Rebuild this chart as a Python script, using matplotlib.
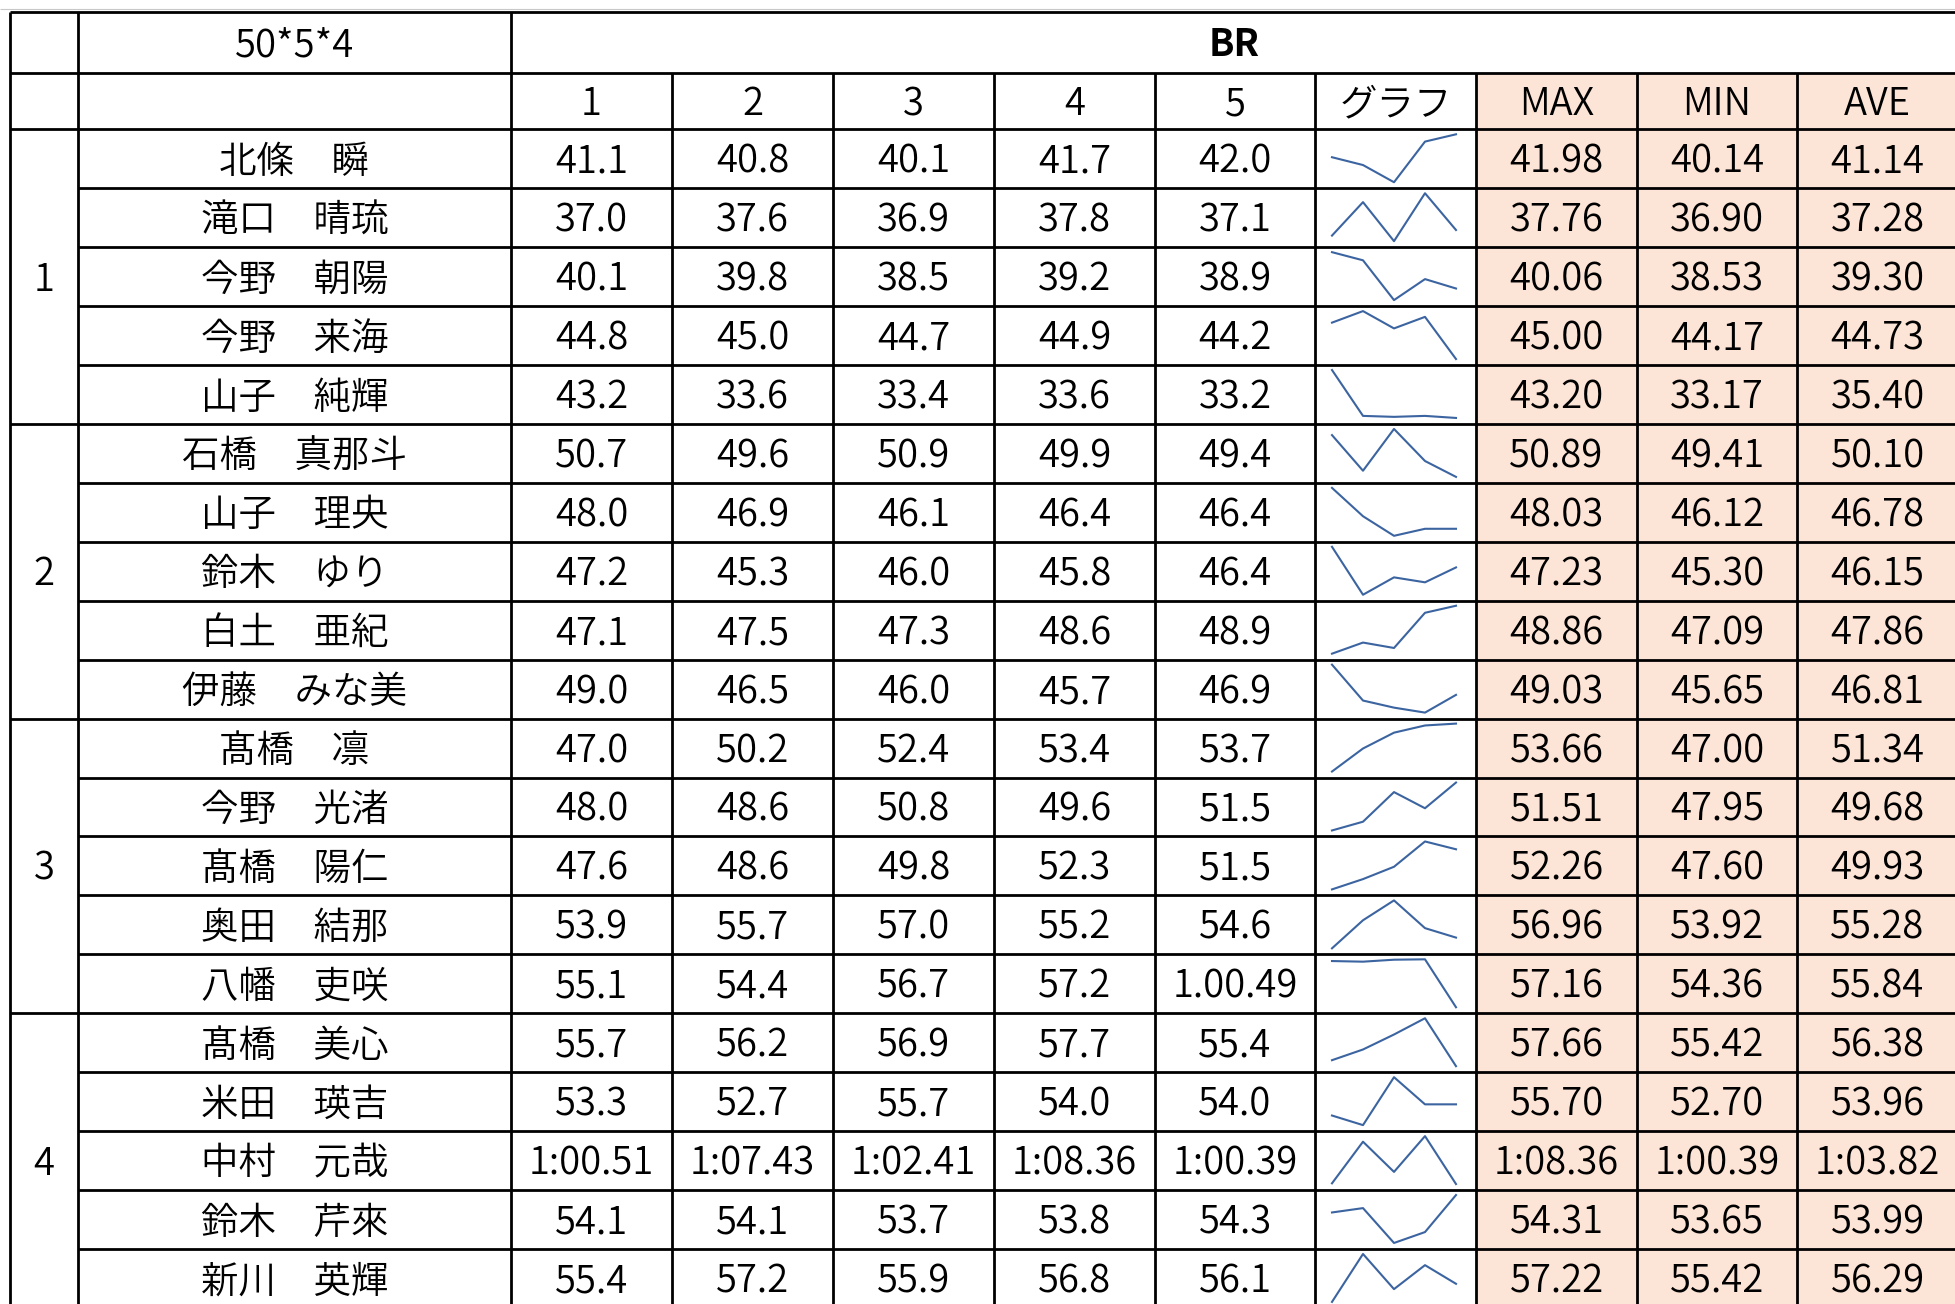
from decimal import Decimal, ROUND_HALF_UP

import matplotlib
matplotlib.use('Agg')
import matplotlib.pyplot as plt
from matplotlib.patches import Rectangle

plt.rcParams['font.family'] = ['Noto Sans CJK JP', 'DejaVu Sans']

# ---- data ----
title = '50*5*4'
event = 'BR'
round_labels = ['1', '2', '3', '4', '5']
graph_label = 'グラフ'
stat_labels = ['MAX', 'MIN', 'AVE']
groups = ['1', '2', '3', '4']

names = ['北條　瞬', '滝口　晴琉', '今野　朝陽', '今野　来海', '山子　純輝',
         '石橋　真那斗', '山子　理央', '鈴木　ゆり', '白土　亜紀', '伊藤　みな美',
         '髙橋　凛', '今野　光渚', '髙橋　陽仁', '奥田　結那', '八幡　吏咲',
         '髙橋　美心', '米田　瑛吉', '中村　元哉', '鈴木　芹來', '新川　英輝']

# seconds per round; a string is a cell typed as text (sparkline plots it as 0)
times = [
  [41.10, 40.80, 40.14, 41.70, 41.98],
  [37.00, 37.60, 36.90, 37.76, 37.10],
  [40.06, 39.80, 38.53, 39.20, 38.90],
  [44.80, 45.00, 44.70, 44.90, 44.17],
  [43.20, 33.60, 33.40, 33.60, 33.17],
  [50.70, 49.60, 50.89, 49.90, 49.41],
  [48.03, 46.90, 46.12, 46.40, 46.40],
  [47.23, 45.30, 46.00, 45.80, 46.40],
  [47.09, 47.50, 47.30, 48.60, 48.86],
  [49.03, 46.50, 46.00, 45.65, 46.90],
  [47.00, 50.20, 52.40, 53.40, 53.66],
  [47.95, 48.60, 50.80, 49.60, 51.51],
  [47.60, 48.60, 49.80, 52.26, 51.50],
  [53.92, 55.70, 56.96, 55.20, 54.60],
  [55.10, 54.36, 56.70, 57.16, '1.00.49'],
  [55.70, 56.20, 56.90, 57.66, 55.42],
  [53.30, 52.70, 55.70, 54.00, 54.00],
  [60.51, 67.43, 62.41, 68.36, 60.39],
  [54.07, 54.13, 53.65, 53.80, 54.31],
  [55.42, 57.22, 55.90, 56.80, 56.10],
]

max_txt = ['41.98', '37.76', '40.06', '45.00', '43.20', '50.89', '48.03', '47.23', '48.86', '49.03',
           '53.66', '51.51', '52.26', '56.96', '57.16', '57.66', '55.70', '1:08.36', '54.31', '57.22']
min_txt = ['40.14', '36.90', '38.53', '44.17', '33.17', '49.41', '46.12', '45.30', '47.09', '45.65',
           '47.00', '47.95', '47.60', '53.92', '54.36', '55.42', '52.70', '1:00.39', '53.65', '55.42']
ave_txt = ['41.14', '37.28', '39.30', '44.73', '35.40', '50.10', '46.78', '46.15', '47.86', '46.81',
           '51.34', '49.68', '49.93', '55.28', '55.84', '56.38', '53.96', '1:03.82', '53.99', '56.29']

# ---- layout (pixels) ----
W, H = 1955, 1304
col_edges = [10, 78, 511, 672, 833, 994, 1155, 1315, 1476, 1637, 1797, 1958]
row_top, head1, head2 = 11.7, 72.7, 129.3
row_h = 58.93
FS_NUM = 27.5  # latin text and numbers
FS_JP = 27     # japanese text
WT = 350
LW = 2.0
FILL = '#fce4d6'
SPARK = '#3b64a0'


def fmt_time(v):
  if isinstance(v, str):
    return v
  if v >= 60:
    m = int(v // 60)
    return '%d:%05.2f' % (m, v - 60 * m)
  return str(Decimal(str(v)).quantize(Decimal('0.1'), rounding=ROUND_HALF_UP))


def put(ax, x, cy, s, fs=FS_NUM, weight=WT):
  ax.text(x, cy + 14, s, ha='center', va='baseline', fontsize=fs, fontweight=weight)


fig = plt.figure(figsize=(W / 100, H / 100), dpi=100)
ax = fig.add_axes([0, 0, 1, 1])
ax.set_xlim(0, W)
ax.set_ylim(H, 0)
ax.axis('off')

n = len(names)
bottom = head2 + n * row_h

# shaded stat columns
ax.add_patch(Rectangle((col_edges[8], head1), col_edges[11] - col_edges[8], bottom - head1,
                       facecolor=FILL, edgecolor='none', zorder=0))

# grid lines
ax.hlines(9, 0, W, color='#c8c8c8', lw=0.8)
for y in [row_top, head1, head2]:
  ax.hlines(y, col_edges[0], col_edges[-1], color='black', lw=LW)
for i in range(1, n):
  y = head2 + i * row_h
  x0 = col_edges[0] if i % 5 == 0 else col_edges[1]
  ax.hlines(y, x0, col_edges[-1], color='black', lw=LW)
for x in col_edges[:3]:
  ax.vlines(x, row_top, bottom, color='black', lw=LW)
for x in col_edges[3:]:
  ax.vlines(x, head1, bottom, color='black', lw=LW)

centers = [(a + b) / 2 for a, b in zip(col_edges[:-1], col_edges[1:])]

# header rows
put(ax, centers[1], (row_top + head1) / 2, title)
put(ax, (col_edges[2] + col_edges[-1]) / 2, (row_top + head1) / 2, event, fs=FS_JP, weight='bold')
hc = (head1 + head2) / 2
for j, lab in enumerate(round_labels):
  put(ax, centers[2 + j], hc, lab)
put(ax, centers[7], hc, graph_label, fs=FS_JP)
for j, lab in enumerate(stat_labels):
  put(ax, centers[8 + j], hc, lab)

# group numbers
for g, lab in enumerate(groups):
  put(ax, centers[0], head2 + (g * 5 + 2.5) * row_h, lab)

# body
for i in range(n):
  cy = head2 + (i + 0.5) * row_h
  put(ax, centers[1], cy, names[i], fs=FS_JP)
  for j, v in enumerate(times[i]):
    put(ax, centers[2 + j], cy, fmt_time(v))
  put(ax, centers[8], cy, max_txt[i])
  put(ax, centers[9], cy, min_txt[i])
  put(ax, centers[10], cy, ave_txt[i])

  # sparkline in its own small axes
  vals = [0 if isinstance(v, str) else v for v in times[i]]
  top = head2 + i * row_h + 5
  sh = row_h - 11
  left = col_edges[7] + 17
  sw = col_edges[8] - col_edges[7] - 37
  sax = fig.add_axes([left / W, 1 - (top + sh) / H, sw / W, sh / H])
  sax.plot(range(len(vals)), vals, color=SPARK, lw=1.5, clip_on=False)
  sax.set_xlim(0, len(vals) - 1)
  sax.set_ylim(min(vals), max(vals))
  sax.axis('off')

fig.savefig('out.png', dpi=100)
